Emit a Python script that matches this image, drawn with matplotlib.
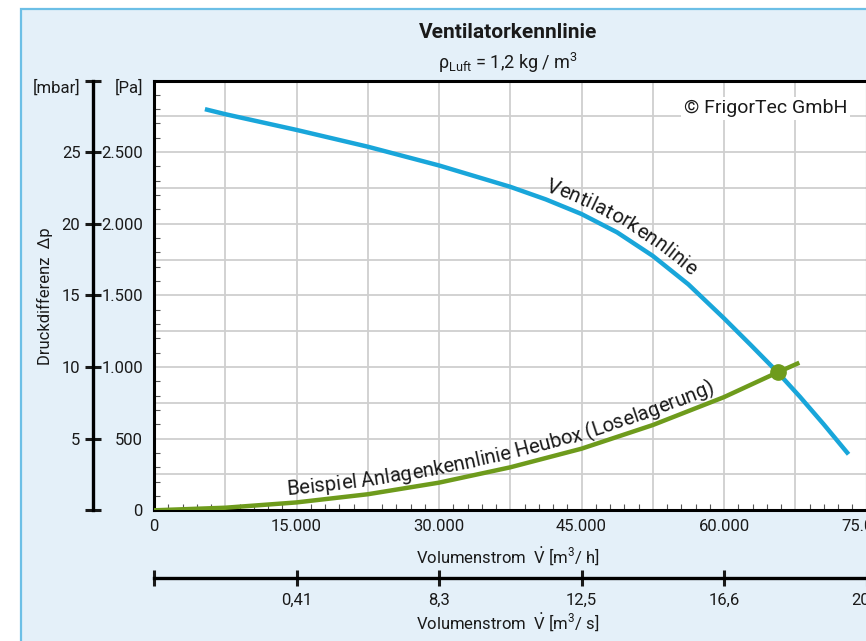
import numpy as np
import matplotlib
matplotlib.use("Agg")
import matplotlib.pyplot as plt
from matplotlib.patches import Rectangle
from matplotlib.transforms import IdentityTransform
from matplotlib.font_manager import FontProperties
from matplotlib.ticker import MultipleLocator, FuncFormatter

FONT = ["Roboto", "DejaVu Sans"]
plt.rcParams["font.family"] = FONT
plt.rcParams["mathtext.fontset"] = "custom"
plt.rcParams["mathtext.rm"] = "Roboto"
plt.rcParams["mathtext.it"] = "Roboto"

BLUE = "#19A6DA"
GREEN = "#6E9B1C"
INK = "#1A1A1A"
PANEL = "#E4F0F9"
EDGE = "#6CBFE6"
GRID = "#CFCFCF"

# Ventilatorkennlinie (m3/h, Pa)
fan_v = [5360, 7500, 15000, 22500, 30000, 37500, 41250, 45000, 48750, 52500,
         56250, 60000, 62800, 65650, 68000, 70500, 73110]
fan_p = [2800, 2765, 2655, 2538, 2407, 2258, 2170, 2068, 1940, 1776,
         1577, 1340, 1155, 963, 792, 600, 391]

# Anlagenkennlinie Heubox (m3/h, Pa)
sys_v = [0, 7500, 15000, 22500, 30000, 37500, 45000, 52500, 60000, 65650, 67930]
sys_p = [0, 18, 55, 112, 193, 300, 430, 595, 790, 963, 1030]

# Betriebspunkt
op_v, op_p = 65650, 963

x_ticks = [0, 15000, 30000, 45000, 60000, 75000]
x_labels = ["0", "15.000", "30.000", "45.000", "60.000", "75.000"]
pa_ticks = [0, 500, 1000, 1500, 2000, 2500]
pa_labels = ["0", "500", "1.000", "1.500", "2.000", "2.500"]
mbar_ticks = [0, 5, 10, 15, 20, 25, 30]
mbar_labels = ["", "5", "10", "15", "20", "25", ""]
s_labels = ["", "0,41", "8,3", "12,5", "16,6", "20,8"]

W, H = 866, 641
XMAX, YMAX = 75000, 3000

fig = plt.figure(figsize=(W / 100, H / 100), dpi=100)
fig.patch.set_facecolor("white")
fig.patches.append(Rectangle((21 / W, -0.1), 1.2, 1 - 9 / H + 0.1,
                             transform=fig.transFigure, facecolor=PANEL,
                             edgecolor=EDGE, lw=1.6, zorder=-5))

left, bottom = 154 / W, 1 - 510.3 / H
width, height = (866.5 - 154) / W, (510.3 - 80.5) / H

# ---------------------------------------------------------------- main axes
ax = fig.add_axes([left, bottom, width, height])
ax.set_facecolor("white")
ax.set_xlim(0, XMAX)
ax.set_ylim(0, YMAX)
ax.xaxis.set_major_locator(MultipleLocator(7500))
ax.yaxis.set_major_locator(MultipleLocator(250))
ax.xaxis.set_minor_locator(MultipleLocator(1500))
ax.yaxis.set_minor_locator(MultipleLocator(100))
ax.xaxis.set_major_formatter(FuncFormatter(
    lambda v, p: x_labels[x_ticks.index(int(v))] if int(v) in x_ticks else ""))
ax.yaxis.set_major_formatter(FuncFormatter(
    lambda v, p: pa_labels[pa_ticks.index(int(v))] if int(v) in pa_ticks else ""))
ax.tick_params(which="major", length=0, labelsize=12, colors=INK, pad=6)
ax.tick_params(axis="y", which="major", pad=8)
ax.tick_params(which="minor", direction="in", length=4, width=0.8, color="#555555")
ax.grid(True, which="major", color=GRID, lw=1.3)
ax.set_axisbelow(True)
for s in ax.spines.values():
    s.set_linewidth(2.2)
    s.set_color("black")

ax.plot(fan_v, fan_p, color=BLUE, lw=3.2, solid_capstyle="butt",
        solid_joinstyle="round", zorder=3)
ax.plot(sys_v, sys_p, color=GREEN, lw=3.2, solid_capstyle="butt",
        solid_joinstyle="round", zorder=3)
ax.plot([op_v], [op_p], "o", color=GREEN, ms=11, zorder=4)

ax.text(0.973, 0.935, "\u00a9 FrigorTec GmbH", transform=ax.transAxes, ha="right",
        va="center", fontsize=14, color=INK, zorder=5,
        bbox=dict(facecolor="white", edgecolor="none", pad=2))

# ---------------------------------------------------------------- mbar axis
axm = fig.add_axes([93 / W, bottom, 0.0001, height])
axm.set_ylim(0, YMAX / 100)
axm.set_xticks([])
axm.set_yticks(mbar_ticks)
axm.set_yticklabels(mbar_labels)
axm.tick_params(axis="y", direction="inout", length=12, width=2.2, labelsize=12,
                colors=INK, pad=3)
for k in ["top", "right", "bottom"]:
    axm.spines[k].set_visible(False)
axm.spines["left"].set_linewidth(2.4)
axm.patch.set_visible(False)

# ---------------------------------------------------------------- m3/s axis
axs = fig.add_axes([left, 1 - 578 / H, width, 0.0001])
axs.set_xlim(0, XMAX)
axs.set_yticks([])
axs.set_xticks(x_ticks)
axs.set_xticklabels(s_labels)
axs.tick_params(axis="x", direction="inout", length=12, width=2.2, labelsize=12,
                colors=INK, pad=5)
for k in ["top", "right", "left"]:
    axs.spines[k].set_visible(False)
axs.spines["bottom"].set_linewidth(2.4)
axs.patch.set_visible(False)

# ---------------------------------------------------------------- texts
fig.text(508 / W, 1 - 32 / H, "Ventilatorkennlinie", ha="center", va="center",
         fontsize=15, fontweight="bold", color=INK)
fig.text(508 / W, 1 - 63 / H, r"$\mathrm{\rho}_{\mathrm{Luft}}$ = 1,2 kg / m$^3$", ha="center",
         va="center", fontsize=13, color=INK)
fig.text(80 / W, 1 - 88 / H, "[mbar]", ha="right", va="center", fontsize=12, color=INK)
fig.text(143 / W, 1 - 88 / H, "[Pa]", ha="right", va="center", fontsize=12, color=INK)
fig.text(45 / W, 1 - 296 / H, "Druckdifferenz  \u0394p", rotation=90, ha="center",
         va="center", fontsize=12, color=INK)
fig.text(508 / W, 1 - 556 / H, r"Volumenstrom  $\dot{\mathrm{V}}$ [m$^3$/ h]",
         ha="center", va="center", fontsize=12, color=INK)
fig.text(508 / W, 1 - 622 / H, r"Volumenstrom  $\dot{\mathrm{V}}$ [m$^3$/ s]",
         ha="center", va="center", fontsize=12, color=INK)


# ---------------------------------------------------------------- curved labels
def text_on_curve(xs, ys, label, start_px, offset, size, smooth=18):
    """Place label letter by letter along a data curve (display pixels)."""
    fig.canvas.draw()
    rend = fig.canvas.get_renderer()
    pts = ax.transData.transform(np.column_stack([xs, ys]))
    seg = np.hypot(*np.diff(pts, axis=0).T)
    arc = np.concatenate([[0], np.cumsum(seg)])

    def at(s):
        return np.array([np.interp(s, arc, pts[:, 0]), np.interp(s, arc, pts[:, 1])])

    s0 = np.interp(start_px, pts[:, 0], arc)
    fp = FontProperties(family=FONT, size=size)
    cum = [0.0]
    for i in range(1, len(label) + 1):
        w, _, _ = rend.get_text_width_height_descent(label[:i], fp, ismath=False)
        cum.append(w)
    for i, ch in enumerate(label):
        if ch == " ":
            continue
        s = s0 + (cum[i] + cum[i + 1]) / 2
        p = at(s)
        t = at(s + smooth) - at(s - smooth)
        t = t / np.hypot(*t)
        nrm = np.array([-t[1], t[0]])
        q = p + nrm * offset
        ang = np.degrees(np.arctan2(t[1], t[0]))
        ax.text(q[0], q[1], ch, transform=IdentityTransform(), rotation=ang,
                rotation_mode="anchor", ha="center", va="baseline",
                fontproperties=fp, color=INK, zorder=5)


text_on_curve(fan_v, fan_p, "Ventilatorkennlinie", 542, 8, 14.6)
text_on_curve(sys_v, sys_p, "Beispiel Anlagenkennlinie Heubox (Loselagerung)", 288, 8, 14.6)

fig.savefig("out.png", dpi=100, facecolor="white")
